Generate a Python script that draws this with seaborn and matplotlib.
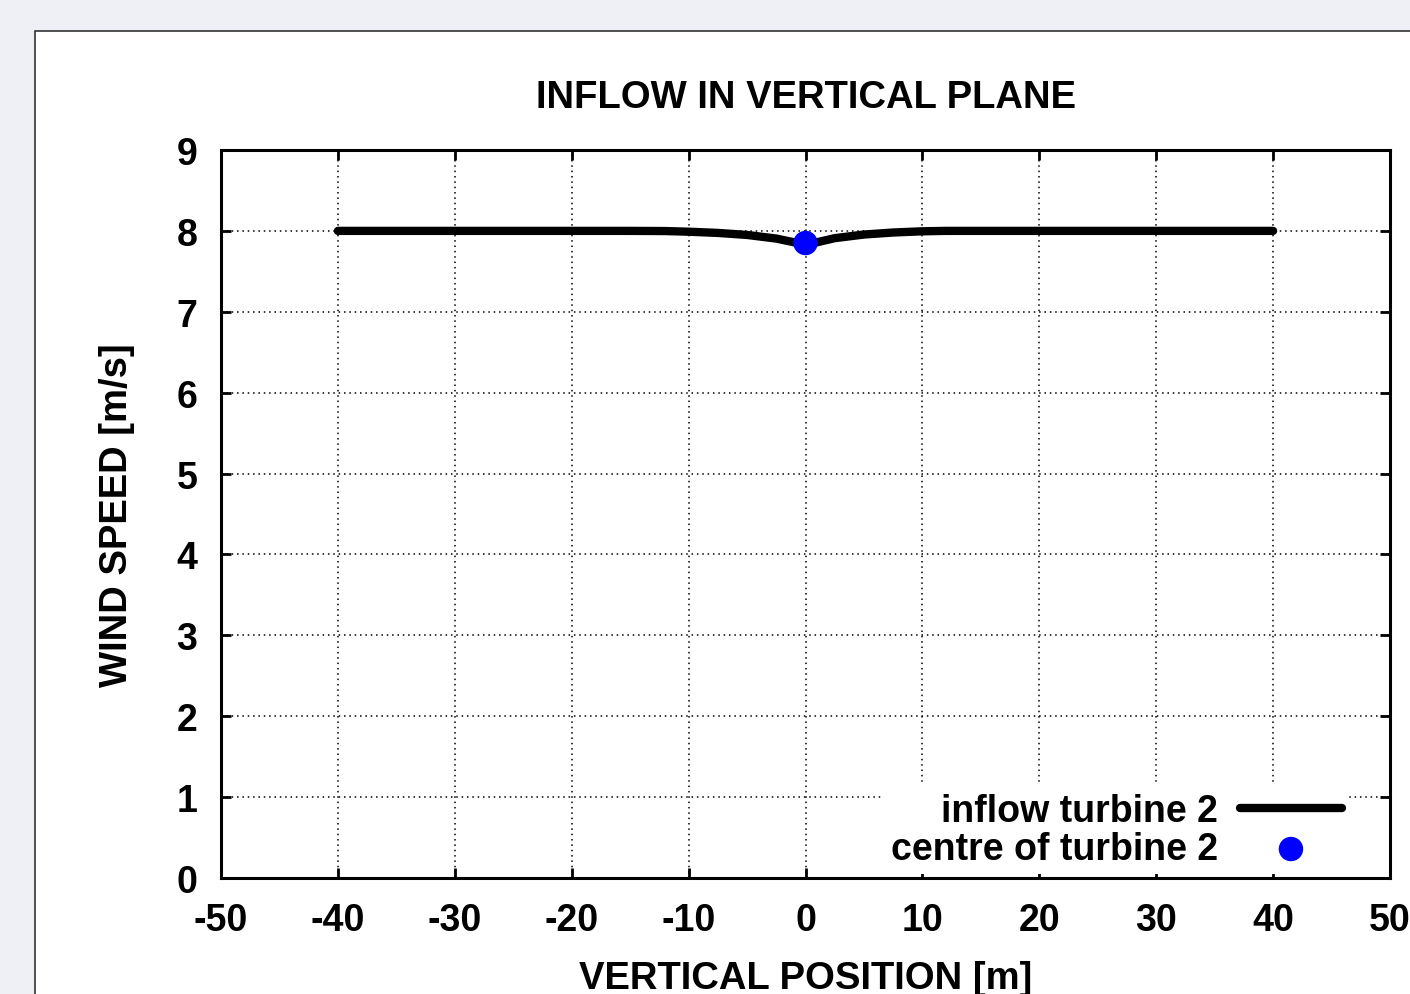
import numpy as np
import pandas as pd
import matplotlib
matplotlib.use("Agg")
import matplotlib.pyplot as plt
from matplotlib.patches import Rectangle
import seaborn as sns

sns.set_style("ticks")
plt.rcParams['font.family'] = ['Liberation Sans', 'DejaVu Sans']
plt.rcParams['font.weight'] = 'bold'
plt.rcParams['axes.unicode_minus'] = False
for key in ['text.color', 'axes.labelcolor', 'xtick.color', 'ytick.color']:
    plt.rcParams[key] = 'black'

# inflow profile
position = [-40, -30, -20, -15, -12, -10, -7.5, -5, -2.5, -1, 0, 1, 2.5, 5, 7.5, 10, 12, 15, 20, 30, 40]
speed = [8.0, 8.0, 8.0, 8.0, 7.998, 7.99, 7.975, 7.95, 7.905, 7.86, 7.81, 7.86, 7.91, 7.955, 7.98, 7.995, 8.0, 8.0, 8.0, 8.0, 8.0]
centre_pos = [0]
centre_speed = [7.85]
xticks = list(range(-50, 51, 10))
yticks = list(range(0, 10))

inflow = pd.DataFrame({'pos': position, 'speed': speed})
centre = pd.DataFrame({'pos': centre_pos, 'speed': centre_speed})

fig = plt.figure(figsize=(14.1, 9.95), dpi=100, facecolor='#eef0f5')
# white page panel behind the plot
fig.patches.append(Rectangle((35 / 1410, -0.01), 1.2, 1 - 32 / 995 + 0.01,
                             transform=fig.transFigure, facecolor='white',
                             edgecolor='#333333', linewidth=1.2, zorder=-10))
ax = fig.add_axes([221 / 1410, 1 - 879 / 995, (1390 - 221) / 1410, (879 - 151) / 995])
ax.set_facecolor('white')

sns.lineplot(data=inflow, x='pos', y='speed', ax=ax, color='black', linewidth=6,
             label='inflow turbine 2', zorder=3)
sns.scatterplot(data=centre, x='pos', y='speed', ax=ax, color='#0000ff', s=310,
                edgecolor='none', label='centre of turbine 2', zorder=4)

ax.set_xlim(-50, 50)
ax.set_ylim(0, 9)
ax.set_xticks(xticks)
ax.set_yticks(yticks)
ax.grid(True, color='black', linestyle=(0, (1, 2.5)), linewidth=1.1)
ax.tick_params(direction='in', length=7, width=2, top=True, right=True,
               labelsize=27, pad=17)
for lab in ax.get_xticklabels() + ax.get_yticklabels():
    lab.set_fontweight('bold')
for sp in ax.spines.values():
    sp.set_linewidth(2.2)
    sp.set_color('black')

ax.set_title('INFLOW IN VERTICAL PLANE', fontsize=27.5, fontweight='bold', pad=31)
ax.set_xlabel('VERTICAL POSITION [m]', fontsize=27.5, fontweight='bold', labelpad=16)
ax.set_ylabel('WIND SPEED [m/s]', fontsize=27.5, fontweight='bold', labelpad=30)

leg = ax.legend(loc='lower right', bbox_to_anchor=(0.965, 0.005), markerfirst=False,
                fontsize=27, frameon=True, framealpha=1, edgecolor='none',
                facecolor='white', fancybox=False, borderpad=0.2, borderaxespad=0,
                handlelength=2.7, handletextpad=0.6, labelspacing=0.05)
for t in leg.get_texts():
    t.set_fontweight('bold')

fig.savefig('out.png', dpi=100, facecolor=fig.get_facecolor())
